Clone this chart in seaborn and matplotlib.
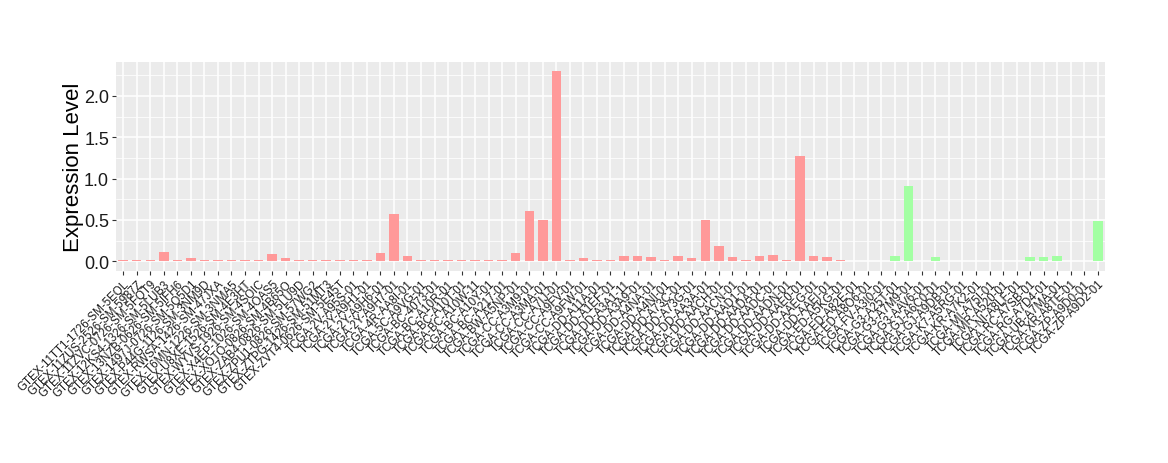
import matplotlib
matplotlib.use("Agg")
import matplotlib.pyplot as plt
import seaborn as sns
import pandas as pd
import numpy as np
from matplotlib.ticker import MultipleLocator, FixedLocator

samples = [
    "GTEX-11TT1-1726-SM-5EQL", "GTEX-11ZUS-2526-SM-5987Z", "GTEX-11ZVC-0726-SM-5FQT9",
    "GTEX-12KS4-1326-SM-5LUB3", "GTEX-13NZB-0626-SM-5IFH6", "GTEX-1497J-0726-SM-5Q5D1",
    "GTEX-P44G-1126-SM-3NM9D", "GTEX-RWSA-1426-SM-47JXA", "GTEX-T6MN-1226-SM-3NMA5",
    "GTEX-U8XE-1526-SM-4E3HT", "GTEX-WYVS-1926-SM-4SOIC", "GTEX-X4EP-1026-SM-4OAS5",
    "GTEX-XOTO-0826-SM-4B65O", "GTEX-ZAB4-0826-SM-5LU9D", "GTEX-ZPU1-0826-SM-57WG2",
    "GTEX-ZTPG-1426-SM-51MT3", "GTEX-ZVT4-0626-SM-5E45T",
    "TCGA-2V-A95S-01", "TCGA-2Y-A9H1-01", "TCGA-2Y-A9H6-01", "TCGA-2Y-A9H7-01",
    "TCGA-4R-AA8I-01", "TCGA-5C-A9VG-01", "TCGA-BC-4073-01", "TCGA-BC-A10R-01",
    "TCGA-BC-A10T-01", "TCGA-BC-A10W-11", "TCGA-BC-A10Y-01", "TCGA-BC-A217-01",
    "TCGA-BW-A5NP-01", "TCGA-CC-A3M9-01", "TCGA-CC-A3MA-01", "TCGA-CC-A7IJ-01",
    "TCGA-CC-A9FV-01", "TCGA-CC-A9FW-01", "TCGA-DD-A11A-01", "TCGA-DD-A1EF-01",
    "TCGA-DD-A3A1-11", "TCGA-DD-A3A9-01", "TCGA-DD-A4NA-01", "TCGA-DD-A4NI-01",
    "TCGA-DD-A73C-01", "TCGA-DD-A73G-01", "TCGA-DD-AA3A-01", "TCGA-DD-AACH-01",
    "TCGA-DD-AACN-01", "TCGA-DD-AAD1-01", "TCGA-DD-AADA-01", "TCGA-DD-AADC-01",
    "TCGA-DD-AADN-01", "TCGA-DD-AAE0-01", "TCGA-DD-AAEG-01", "TCGA-DD-AAEI-01",
    "TCGA-ED-A5KG-01", "TCGA-ED-A82E-01", "TCGA-ED-A8O6-01", "TCGA-FV-A3I0-01",
    "TCGA-G3-A25T-01", "TCGA-G3-A7M9-01", "TCGA-G3-AAV6-01", "TCGA-GJ-A6C0-01",
    "TCGA-GJ-A9DB-01", "TCGA-K7-A5RG-01", "TCGA-KR-A7K2-01", "TCGA-MI-A75I-01",
    "TCGA-MR-A520-01", "TCGA-NI-A8LF-01", "TCGA-RC-A7SB-01", "TCGA-RG-A7D4-01",
    "TCGA-UB-A7MA-01", "TCGA-XR-A8TE-01", "TCGA-ZP-A9D0-01", "TCGA-ZP-A9D2-01",
]

expression = [
    0.01, 0.01, 0.01, 0.107, 0.01, 0.033, 0.01, 0.01, 0.01, 0.01,
    0.01, 0.082, 0.033, 0.01, 0.01, 0.01, 0.01, 0.02, 0.01, 0.094,
    0.574, 0.057, 0.01, 0.01, 0.02, 0.01, 0.01, 0.01, 0.01, 0.094,
    0.61, 0.50, 2.30, 0.01, 0.033, 0.01, 0.01, 0.057, 0.057, 0.045,
    0.01, 0.057, 0.033, 0.50, 0.18, 0.045, 0.01, 0.057, 0.07, 0.01,
    1.27, 0.057, 0.045, 0.01,
    0.006, 0.006, 0.006, 0.057, 0.909, 0.006, 0.045, 0.006, 0.006, 0.006,
    0.006, 0.006, 0.006, 0.045, 0.045, 0.057, 0.006, 0.006, 0.488,
]

groups = ["A"] * 54 + ["B"] * 19
palette = {"A": "#FF9999", "B": "#A3FFA3"}

y_ticks = [0.0, 0.5, 1.0, 1.5, 2.0]
y_tick_labels = ["0.0", "0.5", "1.0", "1.5", "2.0"]

df = pd.DataFrame({"sample": samples, "value": expression, "group": groups})

sns.set_theme(style="darkgrid")
plt.rcParams["font.family"] = ["Liberation Sans", "DejaVu Sans"]

fig = plt.figure(figsize=(11.68, 4.64), dpi=100)
ax = fig.add_axes([116 / 1168, 1 - 271.7 / 464, (1105 - 116) / 1168, (271.7 - 62.7) / 464])

sns.barplot(data=df, x="sample", y="value", hue="group", palette=palette,
            order=samples, dodge=False, width=0.7, legend=False, ax=ax,
            saturation=1, linewidth=0)

ax.set_facecolor("#EBEBEB")
for s in ax.spines.values():
    s.set_visible(False)

ax.set_xlim(-0.53, len(samples) - 1 + 0.53)
ax.set_ylim(-0.115, 2.415)
ax.set_yticks(y_ticks)
ax.set_yticklabels(y_tick_labels)
ax.yaxis.set_minor_locator(FixedLocator([0.25, 0.75, 1.25, 1.75, 2.25]))

ax.grid(which="major", color="white", linewidth=1.1)
ax.grid(which="minor", axis="y", color="white", linewidth=0.55)
ax.set_axisbelow(True)

ax.tick_params(axis="both", which="major", length=3, width=0.8, color="#333333",
               direction="out", bottom=True, left=True, pad=2)
ax.tick_params(axis="y", which="minor", length=0)
ax.tick_params(axis="y", labelsize=13, labelcolor="#1a1a1a")
ax.tick_params(axis="x", labelsize=8.3, labelcolor="#1a1a1a")

plt.setp(ax.get_xticklabels(), rotation=45, ha="right", va="top", rotation_mode="anchor")

ax.set_xlabel("")
ax.set_ylabel("Expression Level", fontsize=16, color="black", labelpad=0)

fig.savefig("out.png", dpi=100)
